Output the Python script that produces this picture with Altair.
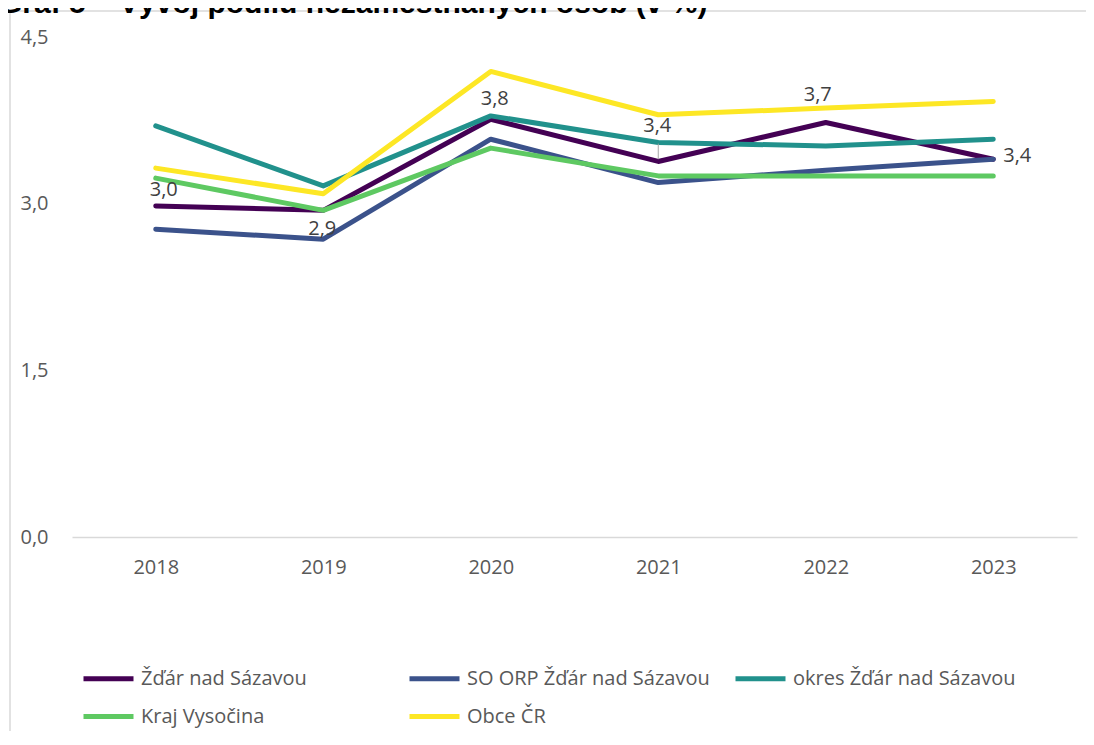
import altair as alt
import pandas as pd

years = ["2018", "2019", "2020", "2021", "2022", "2023"]
series_names = [
    "Žďár nad Sázavou",
    "SO ORP Žďár nad Sázavou",
    "okres Žďár nad Sázavou",
    "Kraj Vysočina",
    "Obce ČR",
]
zdar = [2.98, 2.94, 3.76, 3.38, 3.73, 3.40]
so_orp = [2.77, 2.68, 3.58, 3.19, 3.30, 3.40]
okres = [3.70, 3.16, 3.79, 3.55, 3.52, 3.58]
kraj = [3.23, 2.94, 3.50, 3.25, 3.25, 3.25]
obce = [3.32, 3.09, 4.19, 3.80, 3.86, 3.92]
colors = ["#440154", "#3b528b", "#21918c", "#5ec962", "#fde725"]
y_ticks = [0, 1.5, 3.0, 4.5]
title_text = "Graf 5 – Vývoj podílu nezaměstnaných osob (v %)"

rows = []
for name, vals in zip(series_names, [zdar, so_orp, okres, kraj, obce]):
    for yr, v in zip(years, vals):
        rows.append({"rok": yr, "serie": name, "hodnota": v})
df = pd.DataFrame(rows)

FONT = "Open Sans"

x_enc = alt.X("rok:O", scale=alt.Scale(type="point", padding=0.5),
              axis=alt.Axis(title=None, labelAngle=0, ticks=False, domain=True,
                            domainColor="#d9d9d9", domainWidth=1.5,
                            labelFont=FONT, labelFontSize=20, labelColor="#595959",
                            labelPadding=20, grid=False))
y_enc = alt.Y("hodnota:Q", scale=alt.Scale(domain=[0, 4.5], nice=False, zero=True),
              axis=alt.Axis(title=None, values=y_ticks, ticks=False, domain=False,
                            grid=False, labelFont=FONT, labelFontSize=20,
                            labelColor="#595959", labelPadding=24,
                            labelExpr="replace(format(datum.value, '.1f'), '.', ',')"))

base = alt.Chart(df)

lines = base.mark_line(strokeWidth=5, strokeCap="round", strokeJoin="round").encode(
    x=x_enc,
    y=y_enc,
    color=alt.Color("serie:N", scale=alt.Scale(domain=series_names, range=colors),
                    sort=series_names,
                    legend=alt.Legend(title=None, orient="none", legendX=9, legendY=614,
                                      direction="horizontal", columns=3, gridAlign="all",
                                      columnPadding=15, rowPadding=-8, padding=0,
                                      symbolType="stroke", symbolSize=2500,
                                      symbolStrokeWidth=5, labelOffset=5,
                                      labelFont=FONT, labelFontSize=20,
                                      labelColor="#595959", labelLimit=400)),
    order=alt.Order("serie_idx:Q"),
).transform_calculate(
    serie_idx="indexof(" + str(series_names) + ", datum.serie)"
)

zdar_df = df[df["serie"] == series_names[0]]
lbl_base = alt.Chart(zdar_df).transform_calculate(
    txt="replace(format(datum.hodnota, '.1f'), '.', ',')"
)
offsets = {
    "2018": dict(dx=8, dy=-16, align="center"),
    "2019": dict(dx=-1, dy=19, align="center"),
    "2020": dict(dx=4, dy=-20, align="center"),
    "2021": dict(dx=-1, dy=-35, align="center"),
    "2022": dict(dx=-8, dy=-28, align="center"),
    "2023": dict(dx=10, dy=-3, align="left"),
}
label_layers = []
for yr, o in offsets.items():
    label_layers.append(
        lbl_base.transform_filter(alt.datum.rok == yr).mark_text(
            font=FONT, fontSize=20, color="#404040", baseline="middle", **o
        ).encode(x="rok:O", y="hodnota:Q", text="txt:N")
    )

leader = alt.Chart(zdar_df).transform_filter(alt.datum.rok == "2021").transform_calculate(
    y1="datum.hodnota + 0.02", y2="datum.hodnota + 0.16"
).mark_rule(color="#a6a6a6", strokeWidth=1).encode(
    x="rok:O", y="y1:Q", y2="y2:Q"
)

one = pd.DataFrame({"t": [title_text]})
frame = alt.Chart(one).mark_rect(fillOpacity=0, stroke="#d9d9d9", strokeWidth=1.5).encode(
    x=alt.value(-62), x2=alt.value(1300), y=alt.value(-26), y2=alt.value(900)
)
title = alt.Chart(one).mark_text(
    font="Liberation Sans", fontWeight="bold", fontSize=30, align="left",
    baseline="alphabetic", color="#000000"
).encode(x=alt.value(-73), y=alt.value(-24), text="t:N")

chart = alt.layer(frame, title, lines, leader, *label_layers).properties(
    width=1005, height=500,
    padding={"left": 64, "top": 29, "right": 9, "bottom": 194},
    autosize=alt.AutoSizeParams(type="none"),
).configure(background="white").configure_view(strokeWidth=0, stroke="transparent")

chart.save("out.html", embed_options={"renderer": "svg", "actions": False})
